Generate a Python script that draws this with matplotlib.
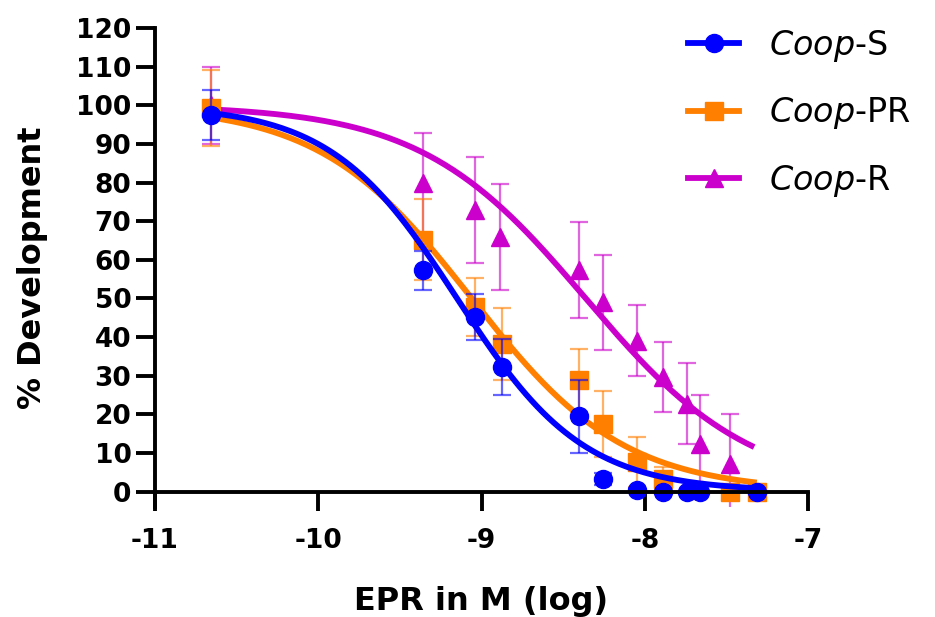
import numpy as np
import matplotlib
matplotlib.use("Agg")
import matplotlib.pyplot as plt

plt.rcParams['font.family'] = ['DejaVu Sans']
plt.rcParams['mathtext.fontset'] = 'dejavusans'

# Coop-S data (log M, % development, SD)
s_x = [-10.66, -9.357, -9.04, -8.876, -8.403, -8.258, -8.05, -7.886, -7.743, -7.662, -7.314]
s_y = [97.5, 57.3, 45.2, 32.2, 19.5, 3.3, 0.3, 0.0, 0.0, 0.0, 0.0]
s_err = [6.5, 5.0, 6.0, 7.3, 9.5, 1.5, 0.5, 0.0, 0.0, 0.0, 0.0]

# Coop-PR data
pr_x = [-10.66, -9.357, -9.04, -8.876, -8.403, -8.258, -8.05, -7.886, -7.70, -7.478, -7.314]
pr_y = [99.3, 65.2, 47.8, 38.3, 28.8, 17.5, 7.6, 3.3, 0.5, 0.0, 0.0]
pr_err = [9.8, 10.5, 7.5, 9.3, 8.2, 8.5, 6.5, 3.0, 1.0, 0.0, 0.0]

# Coop-R data
r_x = [-10.66, -9.357, -9.04, -8.887, -8.403, -8.258, -8.05, -7.886, -7.743, -7.662, -7.478]
r_y = [100.0, 79.8, 72.8, 65.9, 57.3, 49.0, 39.1, 29.6, 22.7, 12.4, 7.2]
r_err = [10.0, 13.0, 13.7, 13.8, 12.5, 12.3, 9.3, 9.0, 10.5, 12.5, 13.0]

# fitted dose-response parameters (logIC50, hill slope)
s_fit = (-9.15, 1.12)
pr_fit = (-9.06, 0.93)
r_fit = (-8.362, 0.858)

x_ticks = [-11, -10, -9, -8, -7]
y_ticks = list(range(0, 121, 10))

colors = {'S': '#0000FF', 'PR': '#FF7F00', 'R': '#CC00CC'}


def curve(p, x0, x1):
    xx = np.linspace(x0, x1, 200)
    return xx, 100 / (1 + 10 ** ((xx - p[0]) * p[1]))


fig = plt.figure(figsize=(9.35, 6.17), dpi=100)
ax = fig.add_axes([0.1658, 0.1783, 0.6984, 0.7763])

series = [
    ('R', r_x, r_y, r_err, r_fit, '^', r'$\mathit{Coop}$-R', -7.33),
    ('PR', pr_x, pr_y, pr_err, pr_fit, 's', r'$\mathit{Coop}$-PR', -7.314),
    ('S', s_x, s_y, s_err, s_fit, 'o', r'$\mathit{Coop}$-S', -7.314),
]

handles = {}
for key, x, y, err, fit, mk, label, xend in series:
    c = colors[key]
    ax.errorbar(x, y, yerr=err, fmt='none', ecolor=c, alpha=0.6,
                elinewidth=1.6, capsize=6.5, capthick=1.6)
    xx, yy = curve(fit, x[0], xend)
    ax.plot(xx, yy, color=c, lw=4.2, solid_capstyle='butt')
    ax.plot(x, y, linestyle='none', marker=mk, color=c, markersize=13)
    handles[key], = ax.plot([], [], color=c, lw=4.2, marker=mk, markersize=13, label=label)

ax.set_xlim(-11, -7)
ax.set_ylim(-4, 120)
ax.set_xticks(x_ticks)
ax.set_yticks(y_ticks)
ax.set_xticklabels([str(t) for t in x_ticks])

for side in ['top', 'right']:
    ax.spines[side].set_visible(False)
ax.spines['bottom'].set_position(('data', 0))
for side in ['left', 'bottom']:
    ax.spines[side].set_linewidth(2.8)

ax.tick_params(axis='both', length=14, width=2.8, labelsize=19)
ax.tick_params(axis='y', pad=3)
ax.tick_params(axis='x', pad=12)
for lab in ax.get_xticklabels() + ax.get_yticklabels():
    lab.set_fontweight('bold')

ax.set_xlabel('EPR in M (log)', fontsize=23, fontweight='bold', labelpad=23)
ax.set_ylabel('% Development', fontsize=23, fontweight='bold', labelpad=20)

leg = fig.legend(handles=[handles['S'], handles['PR'], handles['R']],
                 loc='upper left', bbox_to_anchor=(0.736, 0.955), frameon=False,
                 fontsize=24, handlelength=1.53, handletextpad=0.9,
                 labelspacing=0.95, borderpad=0, borderaxespad=0)

fig.savefig('out.png', dpi=100)
